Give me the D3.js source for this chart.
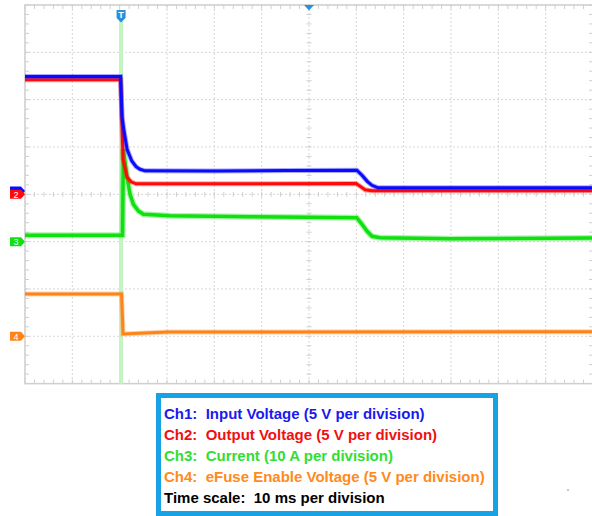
<!DOCTYPE html>
<html lang="en">
<head>
  <meta charset="utf-8">
  <title>eFuse scope capture</title>
  <script src="https://d3js.org/d3.v7.min.js"></script>
  <style>
    body { margin: 0; background: #fff; }
    svg { display: block; }
  </style>
</head>
<body>
<script>
  // time is ms from the trigger, values are in each channel's own unit (V or A)
  var ch1Input = [[-20.3, 12.1], [-0.1, 12.1], [0.21, 7.8], [0.63, 6.3], [1.27, 4.4], [2.26, 3.17],
    [3.17, 2.56], [4.0, 2.29], [5.07, 2.13], [20, 2.12], [35, 2.16], [49.8, 2.2], [50.9, 1.66],
    [52.0, 1.02], [53.0, 0.6], [54.3, 0.34], [99.7, 0.34]];
  var ch2Output = [[-20.3, 12.1], [-0.1, 12.1], [0.42, 3.7], [0.74, 2.96], [1.27, 1.8], [2.11, 1.32],
    [3.17, 1.11], [49.65, 1.13], [50.5, 0.85], [51.55, 0.48], [53.0, 0.37], [99.7, 0.37]];
  var ch3Current = [[-20.3, 1.33], [0.32, 1.33], [0.49, 19.5], [1.2, 13.9], [1.9, 10.0], [2.6, 7.87],
    [3.66, 6.47], [4.71, 5.77], [10.35, 5.45], [27.25, 5.24], [49.8, 5.07], [50.9, 3.66],
    [51.98, 2.18], [53.03, 1.12], [54.7, 0.8], [69.5, 0.6], [99.7, 0.75]];
  var ch4Enable = [[-20.3, 4.47], [0.1, 4.47], [0.42, 0.25], [5, 0.35], [10, 0.45], [99.7, 0.48]];

  var channelNames = ["1", "2", "3", "4"];
  var unitsPerDiv = [5, 5, 10, 5];
  var groundDiv = [0.07, 0, -1, -3];

  var legendLines = [
    "Ch1:  Input Voltage (5 V per division)",
    "Ch2:  Output Voltage (5 V per division)",
    "Ch3:  Current (10 A per division)",
    "Ch4:  eFuse Enable Voltage (5 V per division)",
    "Time scale:  10 ms per division"
  ];

  var w = 592, h = 516;
  var traceColors = ["#0a0aff", "#ff0a0a", "#10e010", "#ff8418"];
  var legendColors = ["#1a1aee", "#f01010", "#33dd33", "#ff8a20", "#000000"];

  var svg = d3.select("body").append("svg")
    .attr("width", w)
    .attr("height", h);

  // 12 divisions across, 8 down
  var x = d3.scaleLinear().domain([-20.3, 99.7]).range([25, 593]);
  var y = d3.scaleLinear().domain([-4, 4]).range([383.6, 5]);

  var majorT = d3.range(13).map(function(k) { return -20.3 + 10 * k; });
  var minorT = d3.range(61).map(function(k) { return -20.3 + 2 * k; });
  var majorD = d3.range(-4, 5);
  var minorD = d3.range(41).map(function(k) { return -4 + 0.2 * k; });

  var grid = svg.append("g");

  // dotted division lines
  grid.selectAll(".vgrid").data(majorT).enter().append("line")
    .attr("x1", function(d) { return x(d); })
    .attr("x2", function(d) { return x(d); })
    .attr("y1", y(4)).attr("y2", y(-4))
    .attr("stroke", "#d6d6d6")
    .attr("stroke-dasharray", "2,2");

  grid.selectAll(".hgrid").data(majorD).enter().append("line")
    .attr("y1", function(d) { return y(d); })
    .attr("y2", function(d) { return y(d); })
    .attr("x1", x(-20.3)).attr("x2", x(99.7))
    .attr("stroke", "#d6d6d6")
    .attr("stroke-dasharray", "2,2");

  // frame
  grid.append("rect")
    .attr("x", x(-20.3)).attr("y", y(4))
    .attr("width", x(99.7) - x(-20.3))
    .attr("height", y(-4) - y(4))
    .attr("fill", "none")
    .attr("stroke", "#cfcfcf")
    .attr("stroke-width", 1.5);

  // minor ticks on the frame
  grid.selectAll(".ttop").data(minorT).enter().append("line")
    .attr("x1", function(d) { return x(d); }).attr("x2", function(d) { return x(d); })
    .attr("y1", y(4)).attr("y2", y(4) + 4)
    .attr("stroke", "#cfcfcf");
  grid.selectAll(".tbot").data(minorT).enter().append("line")
    .attr("x1", function(d) { return x(d); }).attr("x2", function(d) { return x(d); })
    .attr("y1", y(-4)).attr("y2", y(-4) - 4)
    .attr("stroke", "#cfcfcf");
  grid.selectAll(".tleft").data(minorD).enter().append("line")
    .attr("y1", function(d) { return y(d); }).attr("y2", function(d) { return y(d); })
    .attr("x1", x(-20.3)).attr("x2", x(-20.3) + 4)
    .attr("stroke", "#cfcfcf");
  grid.selectAll(".tright").data(minorD).enter().append("line")
    .attr("y1", function(d) { return y(d); }).attr("y2", function(d) { return y(d); })
    .attr("x1", x(99.7) - 4).attr("x2", x(99.7))
    .attr("stroke", "#cfcfcf");

  // ticks on the centre axes
  grid.selectAll(".tcx").data(minorT).enter().append("line")
    .attr("x1", function(d) { return x(d); }).attr("x2", function(d) { return x(d); })
    .attr("y1", y(0) - 2.5).attr("y2", y(0) + 2.5)
    .attr("stroke", "#cfcfcf");
  grid.selectAll(".tcy").data(minorD).enter().append("line")
    .attr("y1", function(d) { return y(d); }).attr("y2", function(d) { return y(d); })
    .attr("x1", x(39.7) - 2.5).attr("x2", x(39.7) + 2.5)
    .attr("stroke", "#cfcfcf");

  // trigger band
  svg.append("rect")
    .attr("x", x(0) - 2).attr("y", 20)
    .attr("width", 4).attr("height", y(-4) - 20)
    .attr("fill", "#c4f4c4");

  var series = [ch1Input, ch2Output, ch3Current, ch4Enable];
  var traces = svg.append("g");

  // draw orange first, blue last so it sits on top
  [3, 2, 1, 0].forEach(function(i) {
    var line = d3.line()
      .x(function(d) { return x(d[0]); })
      .y(function(d) { return y(groundDiv[i] + d[1] / unitsPerDiv[i]); });

    traces.append("path")
      .attr("d", line(series[i]))
      .attr("fill", "none")
      .attr("stroke", traceColors[i])
      .attr("stroke-opacity", 0.35)
      .attr("stroke-width", i == 2 ? 6 : 5);

    traces.append("path")
      .attr("d", line(series[i]))
      .attr("fill", "none")
      .attr("stroke", traceColors[i])
      .attr("stroke-width", i == 2 ? 3.5 : 3);
  });

  // ground markers on the left (ch1 sits mostly behind ch2, its number is hidden)
  var markers = svg.append("g");
  [0, 1, 2, 3].forEach(function(i) {
    var cy = y(groundDiv[i]);
    var mg = markers.append("g");
    mg.append("path")
      .attr("d", "M10," + (cy - 4.5) + "H21L25," + cy + "L21," + (cy + 4.5) + "H10Z")
      .attr("fill", traceColors[i]);
    if (i == 0) return;
    mg.append("text")
      .attr("x", 16).attr("y", cy + 3.5)
      .attr("text-anchor", "middle")
      .attr("font-family", "Liberation Sans, Arial, sans-serif")
      .attr("font-size", "9px")
      .attr("fill", "#fff")
      .text(channelNames[i]);
  });

  // trigger "T" flag and horizontal position arrow
  var tx = x(0);
  svg.append("path")
    .attr("d", "M" + (tx - 4.5) + ",10H" + (tx + 4.5) + "V18L" + tx + ",22.5L" + (tx - 4.5) + ",18Z")
    .attr("fill", "#2a8fe0");
  svg.append("text")
    .attr("x", tx).attr("y", 18)
    .attr("text-anchor", "middle")
    .attr("font-family", "Liberation Sans, Arial, sans-serif")
    .attr("font-size", "9px")
    .attr("font-weight", "bold")
    .attr("fill", "#fff")
    .text("T");

  var cx = x(39.7);
  svg.append("path")
    .attr("d", "M" + (cx - 5) + ",5H" + (cx + 5) + "L" + cx + ",10.5Z")
    .attr("fill", "#2a8fe0");

  // legend box
  var legend = svg.append("g");
  legend.append("rect")
    .attr("x", 158.5).attr("y", 395.5)
    .attr("width", 337).attr("height", 118)
    .attr("fill", "#fff")
    .attr("stroke", "#17a2e6")
    .attr("stroke-width", 5);

  legend.selectAll("text").data(legendLines).enter().append("text")
    .attr("x", 164)
    .attr("y", function(d, i) { return 419 + i * 21; })
    .attr("font-family", "Liberation Sans, Arial, sans-serif")
    .attr("font-size", "15px")
    .attr("font-weight", "bold")
    .attr("fill", function(d, i) { return legendColors[i]; })
    .attr("xml:space", "preserve")
    .style("white-space", "pre")
    .text(function(d) { return d; });

  // stray speck bottom right
  svg.append("circle")
    .attr("cx", 568).attr("cy", 490).attr("r", 0.8)
    .attr("fill", "#888");
</script>
</body>
</html>
